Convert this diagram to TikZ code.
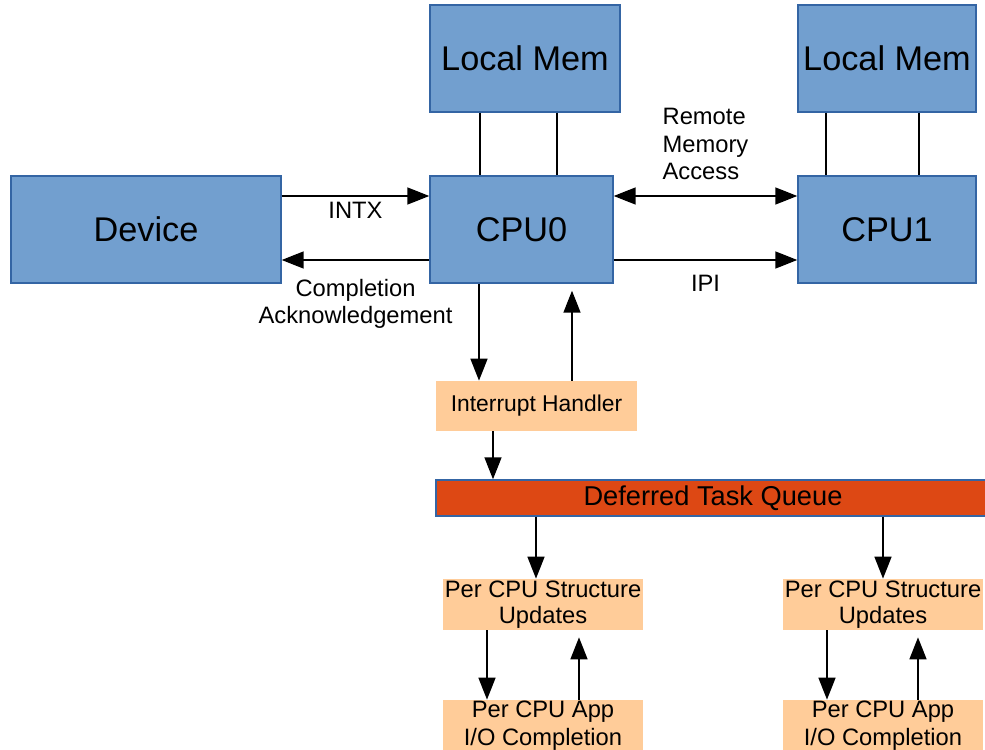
\documentclass[tikz,border=0pt]{standalone}
\usepackage{xcolor}
\usepackage{fontspec}
\setmainfont{Liberation Sans}
\usepackage{tikz}
\usetikzlibrary{arrows.meta}

\definecolor{cpublue}{HTML}{729FCF}
\definecolor{cpuedge}{HTML}{3465A4}
\definecolor{peach}{HTML}{FFCC99}
\definecolor{queuered}{HTML}{DD4814}

\begin{document}
\begin{tikzpicture}[
    x=0.2mm, y=-0.2mm,
    cpubox/.style={
        rectangle,
        draw=cpuedge,
        fill=cpublue,
        line width=0.8pt,
        minimum height=21.4mm,
        inner sep=0pt,
        font=\fontsize{19.5}{23}\selectfont
    },
    taskbox/.style={
        rectangle,
        fill=peach,
        minimum width=40mm,
        inner sep=0pt,
        align=center,
        font=\fontsize{13.5}{15}\selectfont
    },
    queuebox/.style={
        rectangle,
        draw=cpuedge,
        fill=queuered,
        line width=0.8pt,
        minimum height=7.2mm,
        inner sep=0pt,
        font=\fontsize{15.5}{17}\selectfont
    },
    lbl/.style={
        font=\fontsize{13.5}{15.5}\selectfont,
        align=center,
        inner sep=2pt
    },
    link/.style={
        line width=0.9pt
    },
    arrow/.style={
        ->,
        line width=0.9pt,
        >={Triangle[length=4.4mm,width=3.4mm]}
    }
]
\useasboundingbox (0,0) rectangle (985,750);
\clip (0,0) rectangle (985,750);

% Blue blocks
\node[cpubox, minimum width=54mm] (dev) at (146, 229.5) {Device};
\node[cpubox, minimum width=38mm] (mem0) at (525, 58.5) {Local Mem};
\node[cpubox, minimum width=36.6mm] (cpu0) at (521.5, 229.5) {CPU0};
\node[cpubox, minimum width=35.6mm] (mem1) at (887, 58.5) {Local Mem};
\node[cpubox, minimum width=35.6mm] (cpu1) at (887, 229.5) {CPU1};

% Handler and queue
\node[taskbox, minimum width=40.2mm, minimum height=10mm, font=\fontsize{13}{15}\selectfont] (irq) at (536.5, 406) {Interrupt Handler};
\node[queuebox, minimum width=110.8mm] (queue) at (713, 498) {Deferred Task Queue};

% Per CPU work
\node[taskbox, minimum height=10.2mm] (upd0) at (543, 604.5) {Per CPU Structure\\Updates};
\node[taskbox, minimum height=10.2mm] (upd1) at (883, 604.5) {Per CPU Structure\\Updates};
\node[taskbox, minimum height=10.4mm, font=\fontsize{13.5}{16}\selectfont] (app0) at (543, 726) {Per CPU App\\I/O Completion};
\node[taskbox, minimum height=10.4mm, font=\fontsize{13.5}{16}\selectfont] (app1) at (883, 726) {Per CPU App\\I/O Completion};

% Memory links
\draw[link] (mem0.south -| 480,0) -- (cpu0.north -| 480,0);
\draw[link] (mem0.south -| 557,0) -- (cpu0.north -| 557,0);
\draw[link] (mem1.south -| 826,0) -- (cpu1.north -| 826,0);
\draw[link] (mem1.south -| 919,0) -- (cpu1.north -| 919,0);

% Device <-> CPU0
\draw[arrow] (dev.east |- 0,196) -- (cpu0.west |- 0,196) node[lbl, midway, below=0.4mm] (intx) {INTX};
\draw[arrow] (cpu0.west |- 0,260) -- (dev.east |- 0,260) node[lbl, midway, below=3mm] (ack) {Completion\\Acknowledgement};

% CPU0 <-> CPU1
\draw[arrow, <->] (cpu0.east |- 0,196) -- (cpu1.west |- 0,196) node[lbl, midway, above=2.4mm, align=left] (rma) {Remote\\Memory\\Access};
\draw[arrow] (cpu0.east |- 0,260) -- (cpu1.west |- 0,260) node[lbl, midway, below=2.2mm] (ipi) {IPI};

% CPU0 <-> handler
\draw[arrow] (cpu0.south -| 479,0) -- (irq.north -| 479,0);
\draw[arrow, shorten >=1.4mm] (irq.north -| 572,0) -- (cpu0.south -| 572,0);
\draw[arrow] (irq.south -| 493,0) -- (queue.north -| 493,0);

% Queue to per CPU work
\draw[arrow] (queue.south -| 536,0) -- (upd0.north -| 536,0);
\draw[arrow] (queue.south -| 883,0) -- (upd1.north -| 883,0);
\draw[arrow] (upd0.south -| 487,0) -- (app0.north -| 487,0);
\draw[arrow, shorten >=1.4mm] (app0.north -| 579,0) -- (upd0.south -| 579,0);
\draw[arrow] (upd1.south -| 827,0) -- (app1.north -| 827,0);
\draw[arrow, shorten >=1.4mm] (app1.north -| 918,0) -- (upd1.south -| 918,0);

\end{tikzpicture}
\end{document}
